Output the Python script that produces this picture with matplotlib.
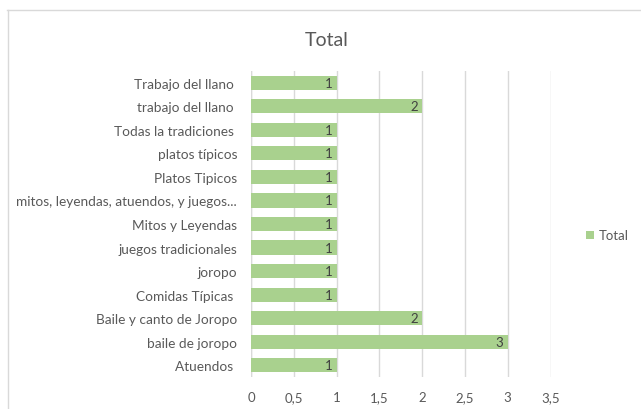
import matplotlib
matplotlib.use("Agg")
import matplotlib.pyplot as plt
from matplotlib.lines import Line2D
from matplotlib.patches import Rectangle

categories = ["Atuendos ", "baile de joropo", "Baile y canto de Joropo", "Comidas Típicas ",
              "joropo", "juegos tradicionales", "Mitos y Leyendas",
              "mitos, leyendas, atuendos, y juegos...", "Platos Tipicos", "platos típicos",
              "Todas la tradiciones ", "trabajo del llano ", "Trabajo del llano "]
values = [1, 3, 2, 1, 1, 1, 1, 1, 1, 1, 1, 2, 1]
xticks = [0, 0.5, 1, 1.5, 2, 2.5, 3, 3.5]
xtick_labels = ["0", "0,5", "1", "1,5", "2", "2,5", "3", "3,5"]
series_name = "Total"

plt.rcParams['font.family'] = ['Lato', 'DejaVu Sans']
W, H = 641, 410
fig = plt.figure(figsize=(W / 100, H / 100), dpi=100)
ax = fig.add_axes([251 / W, 1 - 378 / H, (550.5 - 251) / W, (378 - 72) / H])

green = "#A9D18E"
txt = "#595959"
grid = "#D9D9D9"

y = list(range(len(categories)))
bars = ax.barh(y, values, height=0.6, color=green, zorder=3)
for b, v in zip(bars, values):
    ax.text(b.get_width() - 0.05, b.get_y() + b.get_height() / 2, str(v),
            ha="right", va="center", fontsize=9.5, color="#404040", zorder=4)

ax.set_xlim(0, 3.5)
ax.set_ylim(-0.5, len(categories) - 0.5)
ax.set_xticks(xticks)
ax.set_xticklabels(xtick_labels, fontsize=9.5, color=txt)
ax.set_yticks(y)
ax.set_yticklabels(categories, fontsize=9.8, color=txt)
ax.tick_params(axis="both", length=0)
ax.tick_params(axis="x", pad=10)
ax.tick_params(axis="y", pad=10)
ax.xaxis.grid(True, color=grid, linewidth=1, zorder=0)
ax.yaxis.grid(False)
for s in ax.spines.values():
    s.set_visible(False)
ax.axvline(0, color=grid, linewidth=1, zorder=2)

fig.text(327 / W, 1 - 40 / H, "Total", ha="center", va="center", fontsize=14, color=txt)

# legend
fig.patches.append(Rectangle((586 / W, 1 - 240 / H), 8 / W, 8 / H, transform=fig.transFigure,
                             facecolor=green, edgecolor="none"))
fig.text(599 / W, 1 - 236 / H, series_name, ha="left", va="center", fontsize=9.5, color=txt)

# chart border
fig.lines.append(Line2D([7 / W, 1], [1 - 10.5 / H, 1 - 10.5 / H], transform=fig.transFigure,
                        color=grid, linewidth=1))
fig.lines.append(Line2D([7.5 / W, 7.5 / W], [0, 1 - 10.5 / H], transform=fig.transFigure,
                        color=grid, linewidth=1))

fig.savefig("out.png", dpi=100, facecolor="white")
